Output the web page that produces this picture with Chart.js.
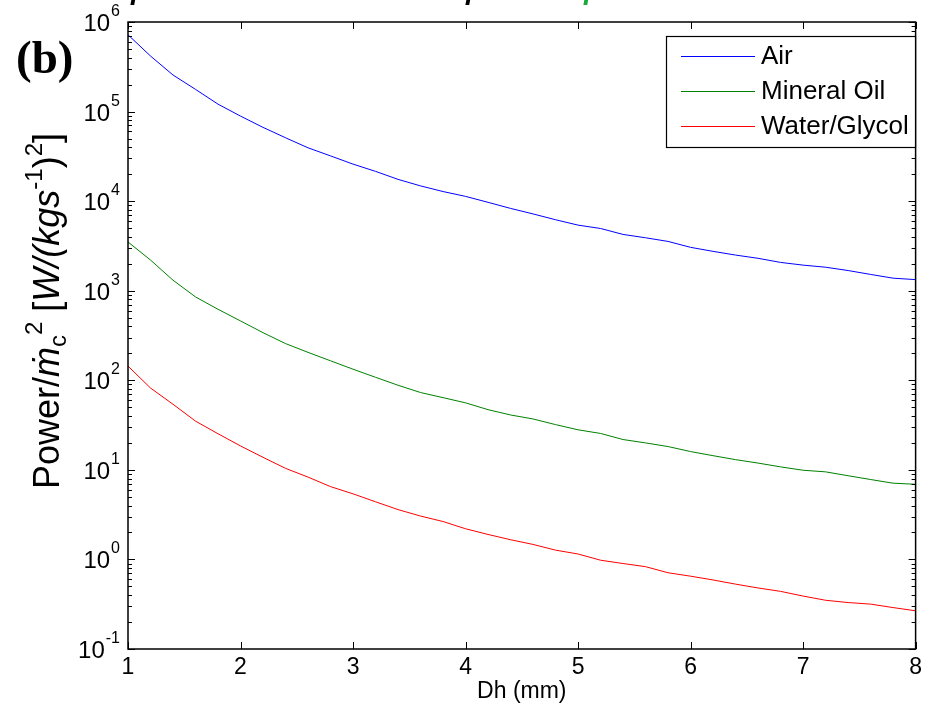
<!DOCTYPE html>
<html>
<head>
<meta charset="utf-8">
<script src="https://cdn.jsdelivr.net/npm/chart.js@4.4.1/dist/chart.umd.min.js"></script>
<style>
html,body{margin:0;padding:0;background:#fff;}
#c{display:block;}
</style>
</head>
<body>
<canvas id="c" width="927" height="713"></canvas>
<script>
// ---- data ----
const dh = [1.0,1.2,1.4,1.6,1.8,2.0,2.2,2.4,2.6,2.8,3.0,3.2,3.4,3.6,3.8,4.0,4.2,4.4,4.6,4.8,5.0,5.2,5.4,5.6,5.8,6.0,6.2,6.4,6.6,6.8,7.0,7.2,7.4,7.6,7.8,8.0];
const air = [720000,417000,256000,177000,121000,89000,66600,51000,39400,32000,25900,21500,17500,14800,12800,11300,9700,8300,7200,6200,5400,4950,4250,3900,3550,3050,2750,2500,2300,2070,1930,1830,1680,1520,1380,1330];
const mineralOil = [3500,2200,1310,853,620,460,340,257,205,165,133,108,88,73,64,56,47,41,37,32,28,25.5,21.8,20,18.2,16,14.4,13,11.9,10.8,9.9,9.5,8.6,7.8,7.1,6.9];
const waterGlycol = [144,82,54,35,25.3,18.5,13.8,10.4,8.3,6.5,5.4,4.4,3.6,3.05,2.65,2.2,1.9,1.66,1.47,1.27,1.15,0.98,0.9,0.83,0.71,0.65,0.59,0.53,0.48,0.44,0.39,0.35,0.33,0.317,0.29,0.267];
const seriesNames = ['Air','Mineral Oil','Water/Glycol'];
const seriesColors = ['#0000ff','#008000','#ff0000'];
const xTicks = [1,2,3,4,5,6,7,8];
const yExponents = [-1,0,1,2,3,4,5,6];
const xTitle = 'Dh (mm)';
const panelLabel = '(b)';

const toPts = arr => arr.map((v,i)=>({x:dh[i], y:v}));
const allSeries = [air, mineralOil, waterGlycol];

const FONT = '"Liberation Sans", Arial, Helvetica, sans-serif';

const decorPlugin = {
  id: 'decor',
  afterDraw(chart) {
    const ctx = chart.ctx;
    const a = chart.chartArea;
    const xs = chart.scales.x, ys = chart.scales.y;
    ctx.save();
    // frame
    ctx.strokeStyle = '#000';
    ctx.lineWidth = 1.5;
    ctx.strokeRect(a.left, a.top, a.right - a.left, a.bottom - a.top);
    // y ticks (inward, both sides)
    ctx.lineWidth = 1;
    ys.ticks.forEach(t => {
      const v = t.value;
      const lg = Math.log10(v);
      const major = Math.abs(lg - Math.round(lg)) < 1e-9;
      const len = major ? 7 : 4;
      const y = Math.round(ys.getPixelForValue(v)) + 0.5;
      ctx.beginPath();
      ctx.moveTo(a.left, y); ctx.lineTo(a.left + len, y);
      ctx.moveTo(a.right, y); ctx.lineTo(a.right - len, y);
      ctx.stroke();
    });
    // x ticks (inward, top and bottom)
    xTicks.forEach(v => {
      const x = Math.round(xs.getPixelForValue(v)) + 0.5;
      ctx.beginPath();
      ctx.moveTo(x, a.bottom); ctx.lineTo(x, a.bottom - 7);
      ctx.moveTo(x, a.top); ctx.lineTo(x, a.top + 7);
      ctx.stroke();
    });
    // y tick labels 10^n
    ctx.fillStyle = '#000';
    ctx.textBaseline = 'alphabetic';
    yExponents.forEach(e => {
      const y = ys.getPixelForValue(Math.pow(10, e));
      const expStr = String(e);
      ctx.font = '16px ' + FONT;
      const ew = ctx.measureText(expStr).width;
      const rightEdge = a.left - 8;
      ctx.textAlign = 'left';
      ctx.fillText(expStr, rightEdge - ew, y - 6);
      ctx.font = '24px ' + FONT;
      ctx.textAlign = 'right';
      ctx.fillText('10', rightEdge - ew - 1, y + 9);
    });
    // legend
    const lx = 666, ly = 36, lw = 249, lh = 111;
    ctx.fillStyle = '#fff';
    ctx.fillRect(lx, ly, lw, lh);
    ctx.strokeStyle = '#000';
    ctx.lineWidth = 1.2;
    ctx.strokeRect(lx + 0.5, ly + 0.5, lw, lh);
    const rows = [56, 91, 126];
    seriesNames.forEach((n, i) => {
      ctx.strokeStyle = seriesColors[i];
      ctx.lineWidth = 1;
      ctx.beginPath();
      ctx.moveTo(681, rows[i] + 0.5); ctx.lineTo(755, rows[i] + 0.5);
      ctx.stroke();
      ctx.fillStyle = '#000';
      ctx.font = '26px ' + FONT;
      ctx.textAlign = 'left';
      ctx.textBaseline = 'middle';
      ctx.fillText(n, 761, rows[i] + 1);
    });
    // panel label
    ctx.textBaseline = 'alphabetic';
    ctx.textAlign = 'left';
    ctx.fillStyle = '#000';
    ctx.font = 'bold 47px "Liberation Serif", "Times New Roman", serif';
    ctx.fillText(panelLabel, 16, 73);
    // cropped title remnants at very top
    ctx.font = 'italic bold 28px ' + FONT;
    ctx.fillStyle = '#000';
    ctx.fillText('p', 131, -1);
    ctx.fillText('p', 466, -1);
    ctx.fillStyle = '#1aa83a';
    ctx.fillText('p', 584, -1);
    // y axis title (rotated)
    const segs = [
      {t:'Power/', f:'36px', dy:0},
      {t:'\u1E41', f:'italic 36px', dy:0},
      {t:'c', f:'24px', dy:7},
      {t:'2', f:'24px', dy:-17},
      {t:' [', f:'36px', dy:0},
      {t:'W/(kgs', f:'italic 36px', dy:0},
      {t:'-1', f:'24px', dy:-17},
      {t:')', f:'36px', dy:0},
      {t:'2', f:'24px', dy:-17},
      {t:']', f:'36px', dy:0}
    ];
    let total = 0;
    segs.forEach(s => { ctx.font = s.f + ' ' + FONT; s.w = ctx.measureText(s.t).width; total += s.w; });
    ctx.translate(59, 311);
    ctx.rotate(-Math.PI / 2);
    let cx = -total / 2;
    ctx.fillStyle = '#000';
    ctx.textAlign = 'left';
    segs.forEach(s => {
      ctx.font = s.f + ' ' + FONT;
      ctx.fillText(s.t, cx, s.dy);
      cx += s.w;
    });
    ctx.restore();
  }
};

new Chart(document.getElementById('c'), {
  type: 'line',
  data: {
    datasets: allSeries.map((arr, i) => ({
      label: seriesNames[i],
      data: toPts(arr),
      borderColor: seriesColors[i],
      backgroundColor: seriesColors[i],
      borderWidth: 1,
      pointRadius: 0,
      tension: 0,
      fill: false
    }))
  },
  options: {
    responsive: false,
    animation: false,
    devicePixelRatio: 1,
    layout: { padding: { left: 0, right: 8, top: 22, bottom: 0 } },
    plugins: { legend: { display: false }, tooltip: { enabled: false }, title: { display: false } },
    scales: {
      x: {
        type: 'linear', min: 1, max: 8,
        grid: { display: false, drawTicks: false },
        border: { display: false },
        afterBuildTicks: s => { s.ticks = xTicks.map(v => ({ value: v })); },
        afterFit: s => { s.height = 64; },
        ticks: { color: '#000', font: { family: FONT, size: 23 }, padding: 5, maxRotation: 0, autoSkip: false },
        title: { display: true, text: xTitle, color: '#000', font: { family: FONT, size: 23 }, padding: { top: 0, bottom: 8 } }
      },
      y: {
        type: 'logarithmic', min: 0.1, max: 1e6,
        grid: { display: false, drawTicks: false },
        border: { display: false },
        ticks: { display: false },
        afterBuildTicks: s => {
          const t = [];
          for (let e = -1; e < 6; e++) for (let m = 1; m < 10; m++) t.push({ value: m * Math.pow(10, e) });
          t.push({ value: 1e6 });
          s.ticks = t;
        },
        afterFit: s => { s.width = 128; }
      }
    }
  },
  plugins: [decorPlugin]
});
</script>
</body>
</html>
